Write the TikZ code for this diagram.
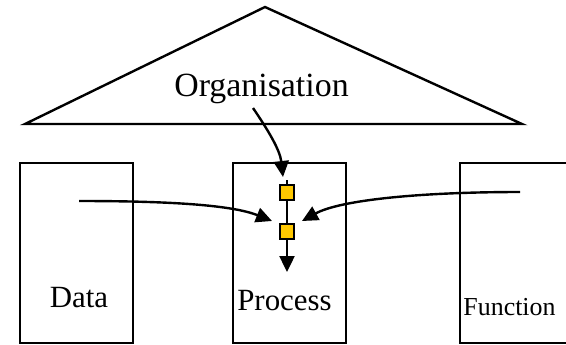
\documentclass[tikz,border=0pt]{standalone}
\usepackage{fontspec}
\setmainfont{Liberation Serif}
\usetikzlibrary{arrows.meta}
\definecolor{sqyellow}{HTML}{FFC800}
\begin{document}
\begin{tikzpicture}[x=1bp,y=-1bp,
  line width=2.4bp,
  boxshape/.style={draw=black, line width=2.4bp, minimum width=113bp, minimum height=180bp, inner sep=0pt},
  sqshape/.style={draw=black, fill=sqyellow, line width=2bp, minimum width=14bp, minimum height=15bp, inner sep=0pt},
  conn/.style={draw=black, line width=2.4bp, -{Triangle[width=15bp,length=16bp]}},
  lbl/.style={anchor=base, inner sep=0pt}
]
\useasboundingbox (0,0) rectangle (566,344);
% roof
\draw[line width=2.4bp, line join=miter] (25,124) -- (265,7) -- (522,124) -- cycle;
\node[lbl, font=\fontsize{34}{34}\selectfont] (org) at (261.5,96.7) {Organisation};
% boxes
\node[boxshape] (data) at (76.5,253) {};
\node[boxshape] (proc) at (289.5,253) {};
\node[boxshape] (func) at (516.5,253) {};
\node[lbl, font=\fontsize{31}{31}\selectfont] (datal) at (79,307) {Data};
\node[lbl, font=\fontsize{31}{31}\selectfont] (procl) at (284.5,310) {Process};
\node[lbl, font=\fontsize{26}{26}\selectfont] (funcl) at (509.5,315) {Function};
% process chain
\coordinate (top) at (287,180);
\node[sqshape] (s1) at (287,192) {};
\node[sqshape] (s2) at (287,231) {};
\coordinate (ptip) at (287,272);
\draw (top) -- (s1);
\draw (s1) -- (s2);
\draw[conn] (s2) -- (ptip);
% connectors
\coordinate (os) at (253,108);
\coordinate (ot) at (283,177);
\draw[conn] (os) .. controls (268,130) and (280,150) .. (ot);
\coordinate (ds) at (79,201);
\coordinate (dt) at (272,221);
\draw[conn] (ds) .. controls (170,201) and (232,205) .. (dt);
\coordinate (fs) at (520,192);
\coordinate (ft) at (302,221);
\draw[conn] (fs) .. controls (420,192) and (340,200) .. (ft);
\end{tikzpicture}
\end{document}
